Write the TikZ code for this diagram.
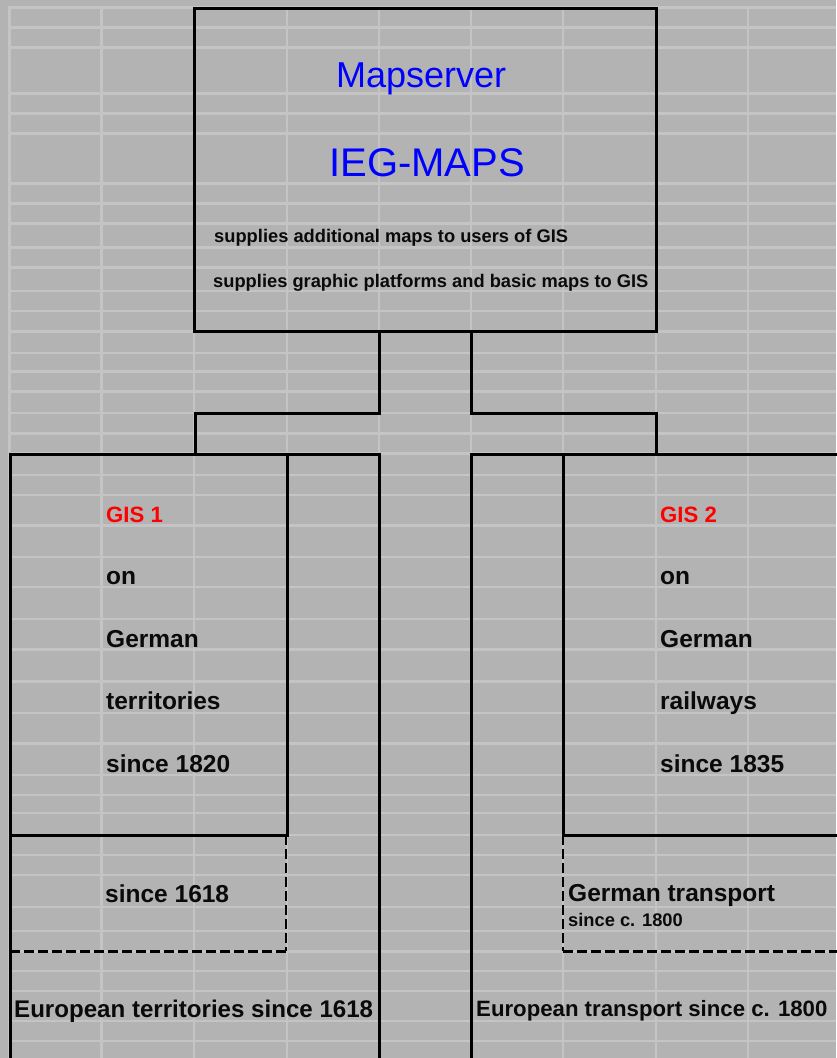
\documentclass[tikz,border=0pt]{standalone}
\usepackage{fontspec}
\setmainfont{Liberation Sans}
\definecolor{bgray}{RGB}{179,179,179}
\definecolor{glines}{RGB}{196,196,196}
\definecolor{tblue}{RGB}{0,0,255}
\definecolor{tred}{RGB}{255,0,0}
\definecolor{tblack}{RGB}{10,10,10}
\begin{document}
\begin{tikzpicture}[x=1pt,y=-1pt,
  grid/.style={draw=glines,line width=2.5pt},
  frame/.style={draw=black,line width=3pt},
  dframe/.style={draw=black,line width=3pt,dash pattern=on 10pt off 4pt},
  dvframe/.style={draw=black,line width=2pt,dash pattern=on 10pt off 4pt},
  txt/.style={anchor=base west,inner sep=0pt,text=tblack,font=\fontsize{24.5}{26}\selectfont\bfseries},
  small/.style={anchor=base west,inner sep=0pt,text=tblack,font=\fontsize{18.3}{20}\selectfont\bfseries},
  title/.style={anchor=base west,inner sep=0pt,text=tblue},
  gis/.style={anchor=base west,inner sep=0pt,text=tred,font=\fontsize{22.2}{24}\selectfont\bfseries}]
\useasboundingbox (0,0) rectangle (836,1058);
\fill[bgray] (0,0) rectangle (836,1058);
% spreadsheet grid
\foreach \yy in {7.5,27.5,47.5,93.5,113.5,133.5,183.5,203.5,223.5,247.5,267.5,291,311,331.5,353,371.5,391.5,413,433.5,453.5,475,495,525.5,557,587,619,649.5,681.5,713,743.5,775,795,813,835,855,875,907,931,951.5,971,991,1021,1041}
  \draw[grid] (8,\yy) -- (836,\yy);
\foreach \xx in {9.5,101.5,194,287,379,471,563,656,748}
  \draw[grid] (\xx,6) -- (\xx,1058);
% top box
\node[frame,rectangle,minimum width=461.5pt,minimum height=323.5pt,inner sep=0pt] (top) at (425.25,169.75) {};
\coordinate (tl) at (379,331.5);
\coordinate (tr) at (471,331.5);
% left column
\coordinate (L0) at (10,454);
\coordinate (L1) at (379,454);
\coordinate (Lin) at (287,454);
\coordinate (Lmid) at (287,835);
\coordinate (Ldash) at (286,951);
% right column
\coordinate (R0) at (471,454);
\coordinate (Rin) at (563,454);
\coordinate (Rmid) at (563,835);
\coordinate (Rdash) at (563,951);
% connectors
\draw[frame] (tl) -- (379,413) -- (195,413) -- (L0 -| 195,0);
\draw[frame] (tr) -- (471,413) -- (656,413) -- (656,454);
% left boxes
\draw[frame] (10,1062) -- (L0) -- (L1) -- (379,1062);
\draw[frame] (Lin) -- (Lmid) -- (10,835);
\draw[dvframe] (286,835) -- (Ldash);
\draw[dframe] (Ldash) -- (10,951);
% right boxes
\draw[frame] (471,1062) -- (R0) -- (840,454);
\draw[frame] (Rin) -- (Rmid) -- (840,835);
\draw[dvframe] (Rmid) -- (Rdash);
\draw[dframe] (Rdash) -- (840,951);
% texts top
\node[title,font=\fontsize{36}{38}\selectfont] (t1) at (336,87) {Mapserver};
\node[title,font=\fontsize{40}{42}\selectfont] (t2) at (329,176) {IEG-MAPS};
\node[small] (t3) at (214,242.7) {supplies additional maps to users of GIS};
\node[small] (t4) at (213,287.3) {supplies graphic platforms and basic maps to GIS};
% left texts
\node[gis] (g1) at (106,522) {GIS 1};
\node[txt] (a1) at (106,584) {on};
\node[txt] (a2) at (106,647) {German};
\node[txt] (a3) at (106,709) {territories};
\node[txt] (a4) at (106,772) {since 1820};
\node[txt] (a5) at (105,902.7) {since 1618};
\node[txt,font=\fontsize{24.1}{26}\selectfont\bfseries] (a6) at (14,1017) {European territories since 1618};
% right texts
\node[gis] (g2) at (660,522) {GIS 2};
\node[txt] (b1) at (660,584) {on};
\node[txt] (b2) at (660,647) {German};
\node[txt] (b3) at (660,709) {railways};
\node[txt] (b4) at (660,772) {since 1835};
\node[txt] (b5) at (568,901.7) {German transport};
\node[small] (b6) at (568,926.7) {since c. 1800};
\node[txt,font=\fontsize{22.2}{24}\selectfont\bfseries] (b7) at (476,1016.7) {European transport since c. 1800};
\end{tikzpicture}
\end{document}
